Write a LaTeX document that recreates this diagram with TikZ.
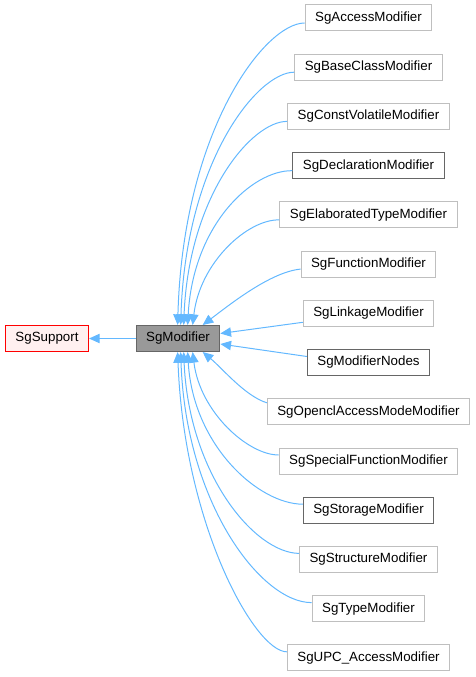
\documentclass[tikz,border=0pt]{standalone}
\usepackage{fontspec}
\setmainfont{Liberation Sans}
\usetikzlibrary{arrows.meta,calc}
\definecolor{edgec}{HTML}{63B8FF}
\definecolor{lgrey}{HTML}{BFBFBF}
\definecolor{dgrey}{HTML}{666666}
\definecolor{modfill}{HTML}{999999}
\definecolor{supfill}{HTML}{FFF0F0}
\definecolor{supred}{HTML}{FF0000}
\tikzset{
  cls/.style={draw=#1, line width=0.75pt, minimum height=19.5pt, inner xsep=7.5pt, inner ysep=0pt, font=\fontsize{10pt}{12pt}\selectfont, fill=white},
  plain/.style={cls=lgrey},
  documented/.style={cls=dgrey},
  edge/.style={draw=edgec, line width=0.75pt, -{Triangle[length=8pt,width=7pt,fill=edgec]}},
}
\begin{document}
\begin{tikzpicture}[x=0.75pt,y=-0.75pt]
\useasboundingbox (0,0) rectangle (475,677);
% central nodes
\node[cls=supred, fill=supfill] (sup) at (47,338.5) {SgSupport};
\node[cls=dgrey, fill=modfill] (mod) at (178,338.5) {SgModifier};
% children
\node[plain]      (c1)  at (368.5,18)    {SgAccessModifier};
\node[plain]      (c2)  at (368.5,67.2)  {SgBaseClassModifier};
\node[plain]      (c3)  at (368.5,116.4) {SgConstVolatileModifier};
\node[documented] (c4)  at (368.5,165.7) {SgDeclarationModifier};
\node[plain]      (c5)  at (368.5,214.9) {SgElaboratedTypeModifier};
\node[plain]      (c6)  at (368.5,264.1) {SgFunctionModifier};
\node[plain]      (c7)  at (368.5,313.3) {SgLinkageModifier};
\node[documented] (c8)  at (368.5,362.5) {SgModifierNodes};
\node[plain]      (c9)  at (368.5,411.8) {SgOpenclAccessModeModifier};
\node[plain]      (c10) at (368.5,461)   {SgSpecialFunctionModifier};
\node[documented] (c11) at (368.5,510.2) {SgStorageModifier};
\node[plain]      (c12) at (368.5,559.4) {SgStructureModifier};
\node[plain]      (c13) at (368.5,608.6) {SgTypeModifier};
\node[plain]      (c14) at (368.5,657.8) {SgUPC\_AccessModifier};
% arrow tip points on SgModifier
\coordinate (t1)  at ($(mod.north west)+(42,0)$);
\coordinate (t2)  at ($(mod.north west)+(45,0)$);
\coordinate (t3)  at ($(mod.north west)+(48,0)$);
\coordinate (t4)  at ($(mod.north west)+(52,0)$);
\coordinate (t5)  at ($(mod.north west)+(57,0)$);
\coordinate (t6)  at ($(mod.north west)+(67,0)$);
\coordinate (t7)  at ($(mod.east)+(0,-5)$);
\coordinate (t8)  at ($(mod.east)+(0,5.5)$);
\coordinate (t9)  at ($(mod.south west)+(67,0)$);
\coordinate (t10) at ($(mod.south west)+(57,0)$);
\coordinate (t11) at ($(mod.south west)+(52,0)$);
\coordinate (t12) at ($(mod.south west)+(48,0)$);
\coordinate (t13) at ($(mod.south west)+(45,0)$);
\coordinate (t14) at ($(mod.south west)+(42,0)$);
% edges
\draw[edge] (mod) -- (sup);
\draw[edge] ($(c1.west)+(0,5)$)  .. controls (265,23)  and (183,130) .. (t1);
\draw[edge] ($(c2.west)+(0,5)$)  .. controls (258,72)  and (186,160) .. (t2);
\draw[edge] ($(c3.west)+(0,5)$)  .. controls (252,121) and (189,195) .. (t3);
\draw[edge] ($(c4.west)+(0,5)$)  .. controls (252,170) and (193,225) .. (t4);
\draw[edge] ($(c5.west)+(0,5)$)  .. controls (248,219) and (200,262) .. (t5);
\draw[edge] ($(c6.west)+(0,5)$)  .. controls (270,272) and (228,306) .. (t6);
\draw[edge] ($(c7.west)+(0,9)$)  -- (t7);
\draw[edge] ($(c8.west)+(0,-6)$) -- (t8);
\draw[edge] ($(c9.west)+(0,-9)$) .. controls (245,396) and (222,368) .. (t9);
\draw[edge] ($(c10.west)+(0,-6)$) .. controls (248,455) and (200,412) .. (t10);
\draw[edge] ($(c11.west)+(0,-6)$) .. controls (258,504) and (193,445) .. (t11);
\draw[edge] ($(c12.west)+(0,-6)$) .. controls (255,553) and (189,475) .. (t12);
\draw[edge] ($(c13.west)+(0,-6)$) .. controls (262,603) and (186,505) .. (t13);
\draw[edge] ($(c14.west)+(0,-6)$) .. controls (255,652) and (184,525) .. (t14);
\end{tikzpicture}
\end{document}
